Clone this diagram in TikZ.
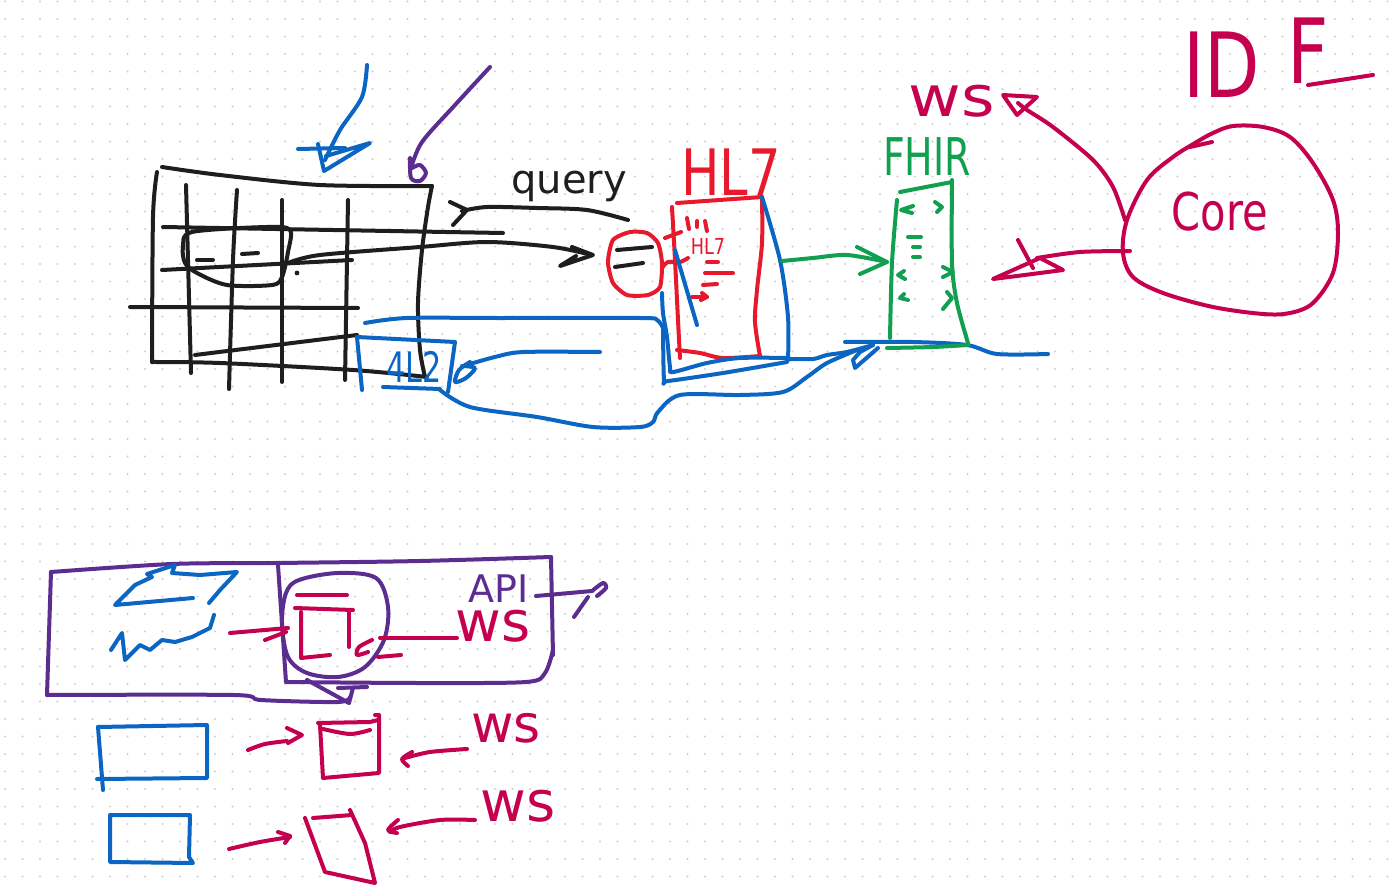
\documentclass[tikz,border=0pt]{standalone}
\usepackage{fontspec}
\usepackage{graphicx}
\setmainfont{DejaVu Sans}
\definecolor{inkK}{HTML}{1E1E1E}
\definecolor{inkB}{HTML}{0A66C2}
\definecolor{inkP}{HTML}{5C2D91}
\definecolor{inkR}{HTML}{E8192C}
\definecolor{inkG}{HTML}{10A050}
\definecolor{inkM}{HTML}{C4004F}
\definecolor{dotc}{HTML}{CFCFCF}
\newcommand\hwsc[2]{\scalebox{#1}[1]{#2}}
\tikzset{
  pen/.style={line width=2pt, line cap=round, line join=round},
  penK/.style={pen, draw=inkK},
  penB/.style={pen, draw=inkB},
  penP/.style={pen, draw=inkP},
  penR/.style={pen, draw=inkR},
  penG/.style={pen, draw=inkG},
  penM/.style={pen, draw=inkM},
  lbl/.style={inner sep=0pt, anchor=center},
  tight/.style={text height=1.1ex, text depth=0pt},
}
\begin{document}
\begin{tikzpicture}[x=0.5pt,y=-0.5pt]
\fill[white] (0,0) rectangle (1389,894);
\useasboundingbox (0,0) rectangle (1389,894);
\foreach \i in {0,...,79}{\foreach \j in {0,...,50}{\fill[dotc] ({5+17.5*\i},{1.5+17.5*\j}) circle (0.6pt);}}

% ---------- table ----------
\draw[penK] plot[smooth] coordinates {(162,167) (220,175) (320,185) (432,186)};
\draw[penK] plot[smooth] coordinates {(432,186) (428,207) (422,250) (418,303) (420,350) (425,377)};
\draw[penK] plot[smooth] coordinates {(157,172) (153,217) (152,362)};
\draw[penK] plot[smooth] coordinates {(152,362) (220,363) (353,370) (427,377)};
\draw[penK] (186,185) -- (191,373);
\draw[penK] plot[smooth] coordinates {(237,190) (233,260) (229,389)};
\draw[penK] (282,200) -- (282,382);
\draw[penK] (348,200) -- (345,380);
\draw[penK] (163,227) -- (503,233);
\draw[penK] (162,270) -- (352,260);
\draw[penK] (130,307) -- (358,308);
\draw[penK] (195,355) -- (357,335);
\draw[penK] plot[smooth cycle, tension=0.5] coordinates {(192,232) (267,227) (290,230) (288,252) (282,277) (272,285) (227,285) (197,273) (185,263) (183,247)};
\draw[penK] (197,260) -- (213,260);
\draw[penK] (242,254) -- (258,253);
\fill[inkK] (297,273) circle (1.2pt);

% curved arrow to red circle
\draw[penK] plot[smooth] coordinates {(288,263) (320,255) (420,247) (487,242) (553,247) (592,255)};
\draw[penK] (572,247) -- (593,255) -- (560,266) -- (576,256);

% query
\draw[penK] (450,202) -- (467,210) -- (453,225);
\draw[penK] plot[smooth] coordinates {(462,211) (487,207) (537,208) (587,210) (628,220)};
\node[lbl, text=inkK, font=\fontsize{20}{20}\selectfont] (query) at (569,186) {query};

% top arrows
\draw[penB] plot[smooth] coordinates {(367,65) (362,97) (340,130) (325,160)};
\draw[penB] (298,149) -- (345,148);
\draw[penB] (318,144) -- (324,171) -- (370,143) -- (326,156);
\draw[penP] plot[smooth] coordinates {(490,67) (455,105) (422,142) (411,168)};
\draw[penP] plot[smooth] coordinates {(410,158) (411,178) (420,181) (426,173) (420,165) (412,168)};

% ---------- red circle and HL7 ----------
\draw[penR] plot[smooth cycle, tension=0.4] coordinates {(613,240) (630,232) (647,233) (658,243) (662,263) (660,287) (648,295) (627,295) (613,283) (608,262)};
\draw[penK] (617,250) -- (652,247);
\draw[penK] (615,267) -- (643,263);
\draw[penR] plot[smooth] coordinates {(662,268) (668,262) (680,262) (688,258)};
\draw[penR] (665,238) -- (681,232);
\draw[penR] (687,218) -- (689,229);
\draw[penR] (697,221) -- (697,227);
\draw[penR] (705,221) -- (707,231);
\node[lbl, text=inkR, font=\fontsize{11}{11}\selectfont] (hlsmall) at (708,246) {\hwsc{0.8}{HL7}};
\draw[penR] (707,262) -- (718,262);
\draw[penR] (705,273) -- (733,273);
\draw[penR] (703,285) -- (717,284);
\draw[penR] (692,297) -- (707,297);
\draw[penR] (702,293) -- (707,297) -- (701,300);
\draw[penR] (677,203) -- (762,197);
\draw[penR] plot[smooth] coordinates {(672,207) (675,260) (678,320) (680,358)};
\draw[penR] plot[smooth] coordinates {(762,197) (762,243) (757,290) (755,322) (760,356)};
\draw[penR] plot[smooth] coordinates {(677,350) (700,353) (723,358) (760,356)};
\node[lbl, text=inkR, font=\fontsize{32}{32}\selectfont] (hl7) at (731,172) {\hwsc{0.8}{HL7}};

% ---------- blue connectors ----------
\draw[penB] plot[smooth] coordinates {(762,197) (780,260) (788,317) (788,360)};
\draw[penB] (675,250) -- (697,325);
\draw[penB] plot[smooth] coordinates {(365,323) (407,318) (500,318) (640,318) (657,320) (663,328)};
\draw[penB] plot[smooth] coordinates {(663,325) (664,380) (668,381) (723,373) (787,362)};
\draw[penB] plot[smooth] coordinates {(662,293) (663,313) (667,337) (670,367) (673,372) (707,363) (740,358) (788,358)};
\draw[penB] plot[smooth] coordinates {(788,359) (813,359) (827,355) (847,352) (873,345)};
\draw[penB] (873,345) -- (860,352) -- (853,360) -- (855,368) -- (878,348);
\draw[penB] plot[smooth] coordinates {(845,342) (913,342) (967,345) (997,354) (1048,354)};
\draw[penB] plot[smooth] coordinates {(440,390) (470,407) (537,417) (593,427) (640,427) (653,422) (658,412) (680,395) (740,395) (783,392) (807,377) (827,363) (857,350)};
\draw[penB] (357,337) -- (455,342) -- (448,392);
\draw[penB] (357,337) -- (362,390);
\draw[penB] (383,387) -- (440,389);
\node[lbl, text=inkB, font=\fontsize{21}{21}\selectfont] (box4) at (414,367) {\hwsc{0.72}{4L2}};
\draw[penB] plot[smooth] coordinates {(600,352) (523,352) (495,357) (470,364)};
\draw[penB] plot[smooth] coordinates {(470,362) (459,370) (455,382) (466,378) (475,368) (462,366)};

% ---------- FHIR ----------
\draw[penG] (900,192) -- (952,182);
\draw[penG] plot[smooth] coordinates {(897,200) (892,263) (890,338)};
\draw[penG] plot[smooth] coordinates {(952,180) (952,263) (957,303) (968,343)};
\draw[penG] plot[smooth] coordinates {(887,348) (933,347) (968,345)};
\draw[penG] (913,206) -- (901,210) -- (912,213);
\draw[penG] (935,202) -- (942,207) -- (937,212);
\draw[penG] (908,237) -- (921,237);
\draw[penG] (913,247) -- (920,247);
\draw[penG] (913,257) -- (920,257);
\draw[penG] (904,271) -- (898,275) -- (905,279);
\draw[penG] (943,267) -- (953,272) -- (943,277);
\draw[penG] (904,294) -- (900,298) -- (908,300);
\draw[penG] (947,292) -- (952,298) -- (943,309);
\node[lbl, text=inkG, font=\fontsize{26}{26}\selectfont] (fhir) at (927,157) {\hwsc{0.73}{FHIR}};
\draw[penG] plot[smooth] coordinates {(782,261) (813,258) (847,255) (887,262)};
\draw[penG] (857,247) -- (887,262) -- (860,274);

% ---------- Core ----------
\draw[penM] plot[smooth cycle, tension=0.55] coordinates {(1213,133) (1233,126) (1263,127) (1290,137) (1313,163) (1333,200) (1338,233) (1333,273) (1313,303) (1290,313) (1263,314) (1213,307) (1163,293) (1133,277) (1123,253) (1127,220) (1147,180) (1173,157) (1195,143)};
\draw[penM] (1190,147) -- (1212,142);
\node[lbl, text=inkM, font=\fontsize{26}{26}\selectfont] (core) at (1220,212) {\hwsc{0.8}{Core}};
\draw[penM] plot[smooth] coordinates {(1125,220) (1113,187) (1093,160) (1053,127) (1027,110) (1018,103)};
\draw[penM] (1003,95) -- (1037,97) -- (1017,115) -- cycle;
\node[lbl, text=inkM, font=\fontsize{28}{28}\selectfont] (wsA) at (952,101) {\hwsc{1.15}{ws}};
\draw[penM] plot[smooth] coordinates {(1130,251) (1080,252) (1037,258)};
\draw[penM] (993,279) -- (1040,258) -- (1063,270) -- (1017,276) -- cycle;
\draw[penM] (1018,240) -- (1033,268);
\node[lbl, text=inkM, font=\fontsize{45}{45}\selectfont] (idl) at (1222,65) {\hwsc{0.8}{ID}};
\node[lbl, text=inkM, font=\fontsize{45}{45}\selectfont] (fl) at (1308,51) {\hwsc{0.8}{F}};
\draw[penM] (1308,85) -- (1373,75);

% ---------- bottom: API box ----------
\draw[penP] plot[smooth] coordinates {(51,572) (172,564) (276,563) (420,561) (551,557)};
\draw[penP] (51,572) -- (47,695);
\draw[penP] plot[smooth] coordinates {(47,695) (234,695) (261,700) (338,702) (350,697)};
\draw[penP] (278,565) -- (286,682);
\draw[penP] plot[smooth] coordinates {(286,682) (420,683) (526,682) (545,673) (553,650)};
\draw[penP] (551,557) -- (553,655);
\draw[penP] plot[smooth cycle, tension=0.55] coordinates {(299,580) (338,573) (376,578) (388,607) (384,640) (365,667) (338,677) (307,673) (288,657) (282,623) (286,593)};
\draw[penP] (307,680) -- (349,703) -- (353,688);
\draw[penP] (338,688) -- (367,687);
\draw[penM] (297,595) -- (347,595);
\draw[penM] (295,608) -- (353,610);
\draw[penM] (301,612) -- (301,658) -- (330,655);
\draw[penM] (349,610) -- (349,647);
\draw[penM] plot[smooth] coordinates {(372,640) (359,647) (357,655) (368,652)};
\draw[penM] (378,657) -- (401,655);
\draw[penM] (380,638) -- (457,638);
\draw[penM] (230,633) -- (288,628);
\draw[penM] (265,640) -- (286,632);
\node[lbl, text=inkP, font=\fontsize{19}{19}\selectfont, text height=1.45ex, text depth=0pt] (api) at (499,595) {API};
\node[lbl, tight, text=inkM, font=\fontsize{28}{28}\selectfont] (wsB) at (493,635) {ws};
\draw[penP] (536,596) -- (592,591);
\draw[penP] plot[smooth] coordinates {(592,591) (603,583) (606,588) (597,596)};
\draw[penP] (588,597) -- (574,617);
\draw[penB] (193,598) -- (115,605) -- (135,585) -- (152,577) -- (147,574) -- (175,565) -- (172,573) -- (200,575) -- (237,572) -- (220,590) -- (209,603);
\draw[penB] (111,650) -- (122,633) -- (125,660) -- (140,645) -- (150,650) -- (162,640) -- (175,642) -- (192,637) -- (210,628) -- (214,615);

% ---------- bottom rows ----------
\draw[penB] (98,727) -- (207,725) -- (207,778) -- (97,779);
\draw[penB] (98,727) -- (103,790);
\draw[penM] plot[smooth] coordinates {(248,750) (265,744) (287,741)};
\draw[penM] (287,728) -- (302,735) -- (288,743);
\draw[penM] (318,723) -- (370,722) -- (378,720);
\draw[penM] (375,715) -- (379,715) -- (379,773) -- (323,778) -- (320,725);
\draw[penM] plot[smooth] coordinates {(323,729) (350,734) (370,730)};
\draw[penM] plot[smooth] coordinates {(467,749) (430,752) (405,758)};
\draw[penM] plot[smooth] coordinates {(412,752) (402,759) (408,766)};
\node[lbl, tight, text=inkM, font=\fontsize{26}{26}\selectfont] (wsC) at (506,736) {ws};
\draw[penB] (110,815) -- (190,815) -- (189,857) -- (193,863) -- (110,862) -- cycle;
\draw[penM] plot[smooth] coordinates {(229,849) (260,842) (290,837)};
\draw[penM] (278,832) -- (290,836) -- (285,843);
\draw[penM] (313,818) -- (352,815);
\draw[penM] (305,818) -- (325,872) -- (375,883) -- (365,843) -- (350,810);
\draw[penM] plot[smooth] coordinates {(475,820) (440,820) (400,827) (390,832)};
\draw[penM] plot[smooth] coordinates {(398,820) (388,830) (397,833)};
\node[lbl, tight, text=inkM, font=\fontsize{28}{28}\selectfont] (wsD) at (518,815) {ws};
\end{tikzpicture}
\end{document}
